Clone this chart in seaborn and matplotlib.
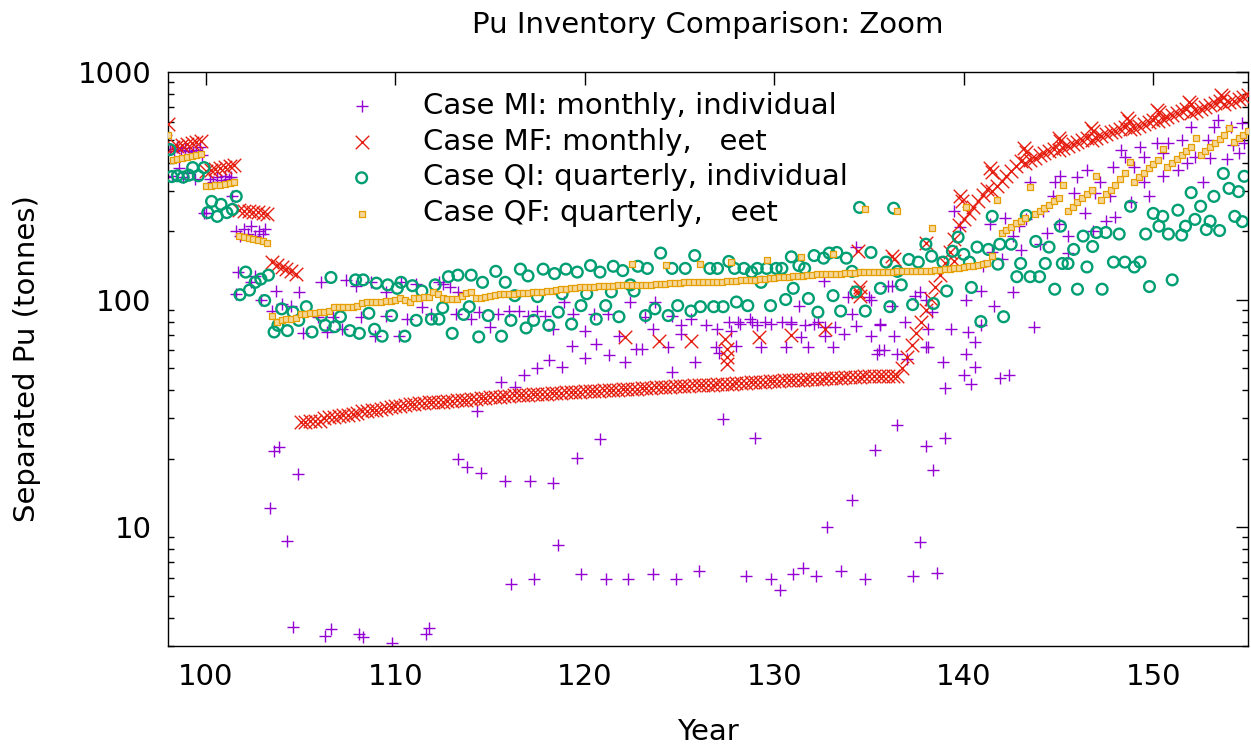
import numpy as np
import matplotlib
matplotlib.use("Agg")
import matplotlib.pyplot as plt
import matplotlib.ticker as mticker
import seaborn as sns

# ---------------- data ----------------
TITLE = "Pu Inventory Comparison: Zoom"
XLABEL = "Year"
YLABEL = "Separated Pu (tonnes)"
LABELS = ["Case MI: monthly, individual",
          "Case MF: monthly,   eet",
          "Case QI: quarterly, individual",
          "Case QF: quarterly,   eet"]
COLORS = ["#9400d3", "#e51e10", "#009e73", "#e69f00"]
x_ticks = [100, 110, 120, 130, 140, 150]
y_ticks = [10, 100, 1000]

# Case MI: monthly, individual  (year, tonnes)
mi_pts = [
    (97.9, 530), (97.9, 347), (98.1, 460), (98.2, 350), (98.3, 448), (98.5, 470), (98.6, 380),
    (98.7, 455), (98.8, 345), (98.9, 465), (99.0, 360), (99.1, 450), (99.3, 446), (99.4, 340),
    (99.5, 455), (99.7, 470), (99.8, 430), (99.9, 241), (100.0, 241), (100.2, 340), (100.4, 330),
    (100.6, 345), (100.8, 335), (101.0, 350), (101.2, 340), (101.3, 347), (101.4, 284),
    (101.6, 200), (101.7, 132), (101.6, 106), (101.8, 190), (102.0, 205), (102.2, 195),
    (102.4, 210), (102.4, 119), (102.6, 190), (102.6, 127), (102.8, 200), (102.9, 100),
    (103.0, 195), (103.1, 205),
    (103.4, 12.1), (103.6, 21.5), (103.85, 22.4), (104.3, 8.7), (104.6, 3.65), (104.85, 17.1),
    (106.3, 3.33), (106.6, 3.55), (108.1, 3.4), (108.3, 3.3), (109.8, 3.1), (111.6, 3.4), (111.8, 3.6),
    (103.5, 89), (103.7, 109), (104.0, 96), (104.5, 94), (104.9, 108), (105.1, 71), (105.9, 84),
    (106.1, 120), (106.4, 72), (106.7, 84), (107.2, 74), (107.4, 122), (107.9, 115), (108.2, 84),
    (108.7, 119), (108.9, 69), (109.5, 108), (109.5, 85), (110.2, 69), (110.3, 119), (110.6, 82),
    (111.1, 117), (111.4, 93), (111.9, 86), (112.3, 119), (112.5, 117), (112.9, 113), (113.2, 86),
    (113.3, 108),
    (113.3, 19.9), (113.8, 18.3), (114.5, 17.2), (115.8, 15.9), (117.1, 15.9), (118.3, 15.6),
    (119.6, 20.2), (120.8, 24.4), (118.6, 8.3), (116.1, 5.6), (117.3, 5.9), (119.8, 6.2),
    (121.1, 5.9), (122.3, 5.9), (123.6, 6.2), (124.8, 5.9), (126.0, 6.4), (127.3, 29.9),
    (129.0, 24.7), (128.5, 6.1), (129.8, 5.9), (130.3, 5.3), (131.0, 6.2), (131.5, 6.6),
    (132.2, 6.1), (133.5, 6.4), (134.8, 5.9), (132.8, 10.0), (134.1, 13.1), (135.3, 21.8),
    (136.5, 28.2), (137.3, 6.1), (137.7, 8.6), (138.0, 22.7), (138.4, 17.8), (138.6, 6.3),
    (139.0, 24.5),
    (114.3, 32.5), (115.6, 43.5), (116.3, 41.3), (116.8, 46.4), (117.5, 49.9), (118.1, 54.2),
    (118.8, 50.6), (119.3, 62.2), (120.0, 55.2), (120.6, 64), (121.3, 56.8), (122.1, 53.3),
    (122.7, 60.9), (123.0, 60.9), (123.6, 74), (124.4, 62), (124.6, 48), (125.1, 70.5),
    (125.8, 53.3), (126.9, 62), (127.1, 58), (127.7, 73), (128.0, 62.6), (128.2, 78), (128.8, 80),
    (129.3, 62), (129.8, 78), (130.6, 62), (130.9, 78), (131.4, 68.6), (131.8, 62), (132.1, 78),
    (132.7, 69), (133.1, 62), (133.7, 70.6), (134.3, 76.5), (135.1, 69), (135.5, 60), (135.6, 78),
    (136.3, 69), (136.9, 79.6), (138.0, 62), (138.1, 74.5),
    (114.0, 82), (114.4, 88), (115.0, 76), (115.4, 86), (116.0, 89), (116.5, 89), (117.0, 85),
    (117.5, 89), (117.9, 85), (118.3, 74), (118.9, 97.5), (119.4, 86), (120.0, 73), (120.5, 86),
    (121.2, 86), (121.8, 69), (122.4, 97.5), (123.2, 84), (123.7, 97.5), (124.6, 85), (125.1, 77),
    (125.6, 82), (126.4, 77), (127.0, 74), (127.6, 80), (128.1, 80), (128.7, 82), (129.1, 77),
    (129.5, 80), (130.4, 80), (130.9, 80), (131.3, 94), (131.6, 77), (132.3, 80), (132.7, 76),
    (133.2, 76), (134.1, 86), (135.1, 100), (135.6, 77), (136.2, 94), (137.4, 104), (138.0, 100),
    (138.3, 88), (132.6, 120.5), (133.9, 102.7), (135.0, 103), (136.0, 115), (134.3, 171),
    (135.4, 57.5), (135.8, 60), (136.5, 57.5), (137.0, 55), (138.1, 61.7), (138.9, 53.3),
    (139.0, 41), (140.0, 46.4), (140.4, 42.6), (140.6, 50.7), (140.1, 57.5), (141.9, 45.4),
    (142.4, 46.5), (143.7, 76), (139.3, 74), (140.2, 72), (140.6, 65), (140.9, 77), (140.1, 100),
    (140.9, 109), (141.6, 94), (142.6, 108), (137.7, 108), (136.2, 115),
    (139.5, 244), (139.8, 208), (141.4, 214), (141.5, 161), (142.2, 229), (142.6, 190),
    (142.9, 210), (143.3, 225), (143.5, 327), (144.2, 244), (144.4, 197), (144.7, 284),
    (144.8, 327), (145.0, 214), (145.1, 348), (145.5, 190), (145.8, 295), (146.0, 344),
    (146.4, 241), (146.5, 372), (146.9, 295), (147.2, 327), (147.5, 221), (147.7, 284),
    (147.9, 384), (148.3, 455), (148.5, 424), (148.8, 267), (149.0, 384), (149.3, 470),
    (149.5, 424), (149.8, 284), (150.2, 489), (150.5, 440), (150.8, 489), (151.3, 372),
    (151.5, 504), (152.0, 575), (152.2, 424), (152.6, 327), (152.9, 504), (153.2, 575),
    (153.4, 617), (153.9, 413), (154.1, 575), (154.5, 442), (154.7, 597), (154.8, 489),
    (141.0, 140), (142.0, 150), (143.0, 165), (144.0, 175), (145.5, 160), (146.8, 200),
    (148.0, 230), (149.5, 330), (150.5, 350), (151.8, 400), (153.0, 420), (154.2, 480),
]

# Case MF: monthly, fleet -- values every quarter year from 98.25 to 155.0
mf_start, mf_step = 98.25, 0.25
mf_val = [
    468, 474, 478, 483, 488, 493, 498,                    # 98.25-99.75
    366, 370, 374, 378, 382, 386, 390,                    # 100.0-101.5
    248, 246, 245, 243, 242, 240, 238,                    # 101.75-103.25
    146, 142, 139, 136, 133, 130,                         # 103.5-104.75
    29.0, 29.0, 29.1, 29.2, 29.3,                         # 105.0-106.0
    30.2, 30.4, 30.6, 30.8, 31.0, 31.2, 31.5, 31.8,
    32.2, 32.4, 32.6, 32.8, 33.0, 33.3, 33.6, 33.9,
    34.2, 34.4, 34.6, 34.8, 35.0, 35.2, 35.3, 35.4,
    35.5, 35.6, 35.7, 35.8, 36.0, 36.1, 36.2, 36.4,
    36.6, 36.8, 37.0, 37.1, 37.3, 37.4, 37.6, 37.8,
    37.9, 38.0, 38.1, 38.2, 38.3, 38.4, 38.5, 38.6,
    38.7, 38.8, 39.0, 39.1, 39.2, 39.3, 39.4, 39.5,
    39.6, 39.7, 39.8, 39.9, 40.0, 40.1, 40.2, 40.3,
    40.4, 40.5, 40.6, 40.7, 40.8, 41.0, 41.1, 41.2,
    41.3, 41.4, 41.5, 41.6, 41.7, 41.8, 41.9, 42.0,
    42.1, 42.2, 42.3, 42.4, 42.5, 42.6, 42.7, 42.8,
    43.0, 43.1, 43.2, 43.4, 43.5, 43.6, 43.8, 43.9,
    44.0, 44.1, 44.2, 44.3, 44.4, 44.5, 44.6, 44.7,
    44.8, 44.9, 45.0, 45.1, 45.3, 45.4, 45.5, 45.6,
    45.7, 45.8, 45.9, 46.0, 46.0, 46.1, 46.1, 46.2,
    46.2, 46.3,                                           # 136.25-136.5
    50, 56, 63, 71, 80, 90, 101, 114, 128, 144, 162, 185, # 136.75-139.5
    212, 226, 240, 255, 270, 287, 305,                    # 139.75-141.25
    300, 316, 332, 349, 366, 386, 405,
    400, 410, 420, 430, 440, 450, 460,
    452, 462, 472, 482, 492, 502, 512,
    505, 514, 524, 533, 543, 553, 563, 572,
    560, 570, 581, 592, 604, 616,
    612, 624, 636, 648, 661, 674, 688,
    662, 675, 688, 701, 715, 729, 743,
    722, 735, 749, 763, 777, 790,                         # -155.0
]
mf_extra = [
    (98.0, 592), (122.1, 68.6), (123.9, 65.6), (125.6, 65.6), (127.4, 67), (127.5, 60.7),
    (127.5, 56), (127.5, 52), (129.2, 68.6), (130.9, 69.5), (132.7, 74), (134.4, 163),
    (134.5, 113), (134.5, 104), (134.4, 108), (136.2, 155), (136.3, 150), (138.0, 178),
    (139.5, 147), (139.8, 284), (139.9, 270), (141.4, 380), (141.5, 362), (143.2, 465),
    (143.3, 445), (145.0, 514), (145.1, 495), (146.7, 569), (146.8, 550), (148.6, 629),
    (148.7, 610), (150.2, 682), (150.3, 665), (151.9, 739), (152.0, 720), (153.6, 793),
    (153.7, 775),
]

# Case QI: quarterly, individual  (year, tonnes)
qi_pts = [
    (98.1, 456), (98.2, 347), (98.5, 350), (98.8, 345), (99.1, 352), (99.3, 380), (99.6, 350),
    (99.9, 380), (100.1, 241), (100.3, 270), (100.6, 232), (100.8, 262), (101.1, 241),
    (101.4, 249), (101.6, 284), (101.8, 105), (102.1, 132), (102.3, 110), (102.6, 119),
    (102.9, 123), (103.1, 99), (103.3, 128), (103.6, 72), (103.8, 77), (104.0, 91), (104.3, 73),
    (104.6, 88), (104.9, 81), (105.3, 93), (105.6, 72), (106.1, 85), (106.3, 77), (106.6, 125),
    (106.8, 76), (107.1, 84), (107.6, 73), (107.9, 122), (108.1, 71), (108.3, 122), (108.6, 87),
    (108.9, 74), (109.0, 118), (109.3, 69), (109.6, 116), (109.8, 85), (110.1, 112), (110.3, 119),
    (110.5, 69), (110.9, 115), (111.1, 81), (111.4, 109), (111.9, 82), (112.1, 116), (112.3, 82),
    (112.5, 92), (112.8, 126), (113.0, 71), (113.3, 128), (113.6, 86), (113.9, 93), (114.0, 128),
    (114.4, 68.5), (114.6, 119), (114.9, 85), (115.3, 133), (115.6, 69), (115.8, 119), (116.1, 81),
    (116.3, 104), (116.6, 136), (116.9, 75), (117.0, 127), (117.3, 81), (117.5, 103), (117.8, 136),
    (118.1, 77), (118.4, 130), (118.6, 88), (118.8, 106), (119.0, 136), (119.3, 78), (119.6, 132),
    (119.8, 94), (120.1, 106), (120.3, 141), (120.6, 82), (120.8, 132), (121.1, 94), (121.4, 108),
    (121.5, 140), (121.8, 84), (122.0, 134), (122.4, 116), (122.6, 109), (122.8, 140), (123.2, 85),
    (123.3, 137), (123.7, 91), (124.0, 160), (124.4, 85), (124.6, 137), (124.9, 94), (125.3, 137),
    (125.6, 89), (125.8, 156), (126.1, 93), (126.6, 137), (126.8, 93), (127.0, 137), (127.3, 93),
    (127.6, 147), (127.9, 137), (128.0, 97.5), (128.4, 137), (128.6, 94), (128.8, 132),
    (129.1, 137), (129.3, 119), (129.6, 137), (129.8, 94), (130.1, 137), (130.4, 137),
    (130.6, 100), (130.9, 154), (131.0, 112), (131.3, 141), (131.6, 137), (131.8, 101),
    (132.1, 156), (132.3, 88), (132.6, 152), (132.9, 160), (133.1, 104), (133.3, 161),
    (133.5, 89), (133.8, 152), (134.1, 133), (134.3, 108), (134.5, 254), (134.8, 89),
    (135.1, 161), (135.6, 112), (135.9, 146), (136.1, 93), (136.3, 252), (136.5, 133),
    (136.7, 116), (137.1, 150), (137.3, 95), (137.6, 146), (138.0, 175), (138.3, 155),
    (138.4, 96), (138.9, 146), (139.1, 109), (139.4, 163), (139.7, 188), (140.0, 158),
    (140.3, 146), (140.4, 113), (140.7, 170), (140.9, 80), (141.3, 166), (141.5, 232),
    (141.8, 143), (141.9, 175), (142.1, 84), (142.5, 175), (142.8, 126), (143.0, 144),
    (143.3, 234), (143.5, 126), (143.8, 180), (144.0, 126), (144.3, 144), (144.5, 170),
    (144.8, 111), (145.1, 210), (145.2, 144), (145.5, 144), (145.8, 166), (146.0, 111),
    (146.3, 190), (146.5, 139), (146.8, 171), (147.0, 197), (147.3, 111), (147.5, 197),
    (147.9, 146), (148.2, 194), (148.5, 146), (148.8, 257), (149.0, 139), (149.3, 146),
    (149.6, 194), (149.8, 114), (150.0, 239), (150.3, 210), (150.5, 232), (150.8, 194),
    (151.0, 122), (151.3, 247), (151.5, 192), (151.7, 210), (152.0, 295), (152.2, 225),
    (152.5, 257), (152.8, 203), (153.0, 221), (153.2, 284), (153.5, 201), (153.7, 358),
    (154.0, 308), (154.3, 232), (154.5, 298), (154.7, 220), (154.8, 348),
]

# Case QF: quarterly, fleet -- values every quarter year from 98.25 to 155.0
qf_start, qf_step = 98.25, 0.25
qf_val = [
    412, 416, 420, 424, 428, 432, 436,                    # 98.25-99.75
    314, 316, 318, 320, 322, 325, 327,                    # 100.0-101.5
    190, 188, 186, 184, 182, 180, 178,                    # 101.75-103.25
    85, 80,                                               # 103.5-103.75
    81, 82, 82, 83, 86, 86, 87, 87, 88, 88, 89, 93,
    93, 93, 93, 93, 94, 97, 98, 98, 98, 98, 99, 99,
    100, 102, 100, 98, 102, 102, 103, 103, 108, 106, 102, 101,
    101, 101, 104, 107, 108, 102, 102, 103, 104, 105, 106, 106,
    106, 106, 107, 107, 107, 108, 108, 108, 109, 109, 110, 111,
    111, 112, 112, 113, 113, 114, 114, 115, 115, 115, 115, 116,
    116, 116, 116, 116, 116, 116, 116, 117, 117, 117, 118, 118,
    118, 119, 119, 119, 119, 120, 120, 120, 120, 120, 121, 121,
    121, 122, 122, 122, 122, 123, 123, 124, 124, 125, 126, 126,
    127, 127, 127, 128, 128, 129, 129, 130, 130, 130, 130, 131,
    131, 131, 132, 132, 132, 132, 132, 132, 132, 132, 133, 133,
    133, 133, 134, 134, 134, 134, 135, 135, 136, 136, 137, 138,
    139, 140, 141, 142, 143, 145, 155, 275,               # 140.0-141.75
    196, 203, 209, 216, 222, 229, 311, 237,               # 142.0-143.75
    244, 252, 260, 270, 280, 320, 244, 255,
    267, 279, 291, 304, 350, 275, 290, 304,
    320, 340, 361, 404, 330, 344, 361, 377,
    394, 412, 460, 384, 400, 416, 433, 448,
    470, 514, 433, 451, 470, 489, 508, 530,
    570, 494, 512, 530, 548,                              # 154.0-155.0
]
qf_extra = [
    (98.0, 530), (122.5, 143), (124.3, 142), (126.1, 143), (127.7, 146), (129.6, 149),
    (131.4, 154), (133.1, 158), (134.8, 249), (136.5, 244), (138.3, 207), (140.1, 254),
]

# ---------------- assemble ----------------
assert len(mf_val) == 228, len(mf_val)
assert len(qf_val) == 228, len(qf_val)
mf_year = [mf_start + mf_step * i for i in range(len(mf_val))]
qf_year = [qf_start + qf_step * i for i in range(len(qf_val))]

mi_x, mi_y = zip(*mi_pts)
mf_x = list(mf_year) + [p[0] for p in mf_extra]
mf_y = list(mf_val) + [p[1] for p in mf_extra]
qi_x, qi_y = zip(*qi_pts)
qf_x = list(qf_year) + [p[0] for p in qf_extra]
qf_y = list(qf_val) + [p[1] for p in qf_extra]

# ---------------- plot ----------------
sns.set_theme(style="white")
plt.rcParams["font.family"] = ["DejaVu Sans"]
plt.rcParams["text.color"] = "black"
plt.rcParams["axes.labelcolor"] = "black"
plt.rcParams["xtick.color"] = "black"
plt.rcParams["ytick.color"] = "black"
plt.rcParams["axes.linewidth"] = 1.0

FS = 21

fig = plt.figure(figsize=(12.51, 7.46), dpi=100)
ax = fig.add_axes([168 / 1251, 1 - 646 / 746, 1080 / 1251, 574 / 746])

sns.scatterplot(x=list(mi_x), y=list(mi_y), ax=ax, marker="+", s=85, color=COLORS[0],
                linewidth=1.0, label=LABELS[0], zorder=2)
sns.scatterplot(x=mf_x, y=mf_y, ax=ax, marker="x", s=95, color=COLORS[1],
                linewidth=1.0, label=LABELS[1], zorder=3)
sns.scatterplot(x=list(qi_x), y=list(qi_y), ax=ax, marker="o", s=60, color=COLORS[2],
                facecolor="none", edgecolor=COLORS[2], linewidth=1.7, label=LABELS[2], zorder=4)
sns.scatterplot(x=qf_x, y=qf_y, ax=ax, marker="s", s=14, color=COLORS[3],
                facecolor="#f6d79a", edgecolor=COLORS[3], linewidth=0.9, label=LABELS[3], zorder=5)

ax.set_yscale("log")
ax.set_xlim(98, 155)
ax.set_ylim(3, 1000)
ax.set_xticks(x_ticks)
ax.set_xticklabels([str(t) for t in x_ticks])
ax.yaxis.set_major_locator(mticker.FixedLocator(y_ticks))
ax.yaxis.set_major_formatter(mticker.FixedFormatter([str(t) for t in y_ticks]))
ax.yaxis.set_minor_locator(mticker.LogLocator(base=10, subs=np.arange(2, 10)))
ax.yaxis.set_minor_formatter(mticker.NullFormatter())
ax.xaxis.set_minor_locator(mticker.NullLocator())

ax.tick_params(axis="both", which="major", direction="in", length=9, width=1.0,
               top=True, right=True, labelsize=FS, colors="black")
ax.tick_params(axis="x", which="major", pad=12)
ax.tick_params(axis="y", which="major", pad=12)
ax.tick_params(axis="y", which="minor", direction="in", length=4.5, width=1.0,
               left=True, right=True, colors="black")
for sp in ax.spines.values():
    sp.set_color("black")
    sp.set_linewidth(1.0)

ax.set_title(TITLE, fontsize=FS, pad=28, color="black")
ax.set_xlabel(XLABEL, fontsize=FS, labelpad=20)
ax.set_ylabel(YLABEL, fontsize=FS, labelpad=26)

ax.legend(loc="upper left", bbox_to_anchor=(0.155, 0.986), frameon=False, fontsize=FS,
          handlelength=1.0, handletextpad=1.6, labelspacing=0.27, borderaxespad=0,
          scatterpoints=1, markerscale=1.0)

fig.savefig("out.png", dpi=100)
